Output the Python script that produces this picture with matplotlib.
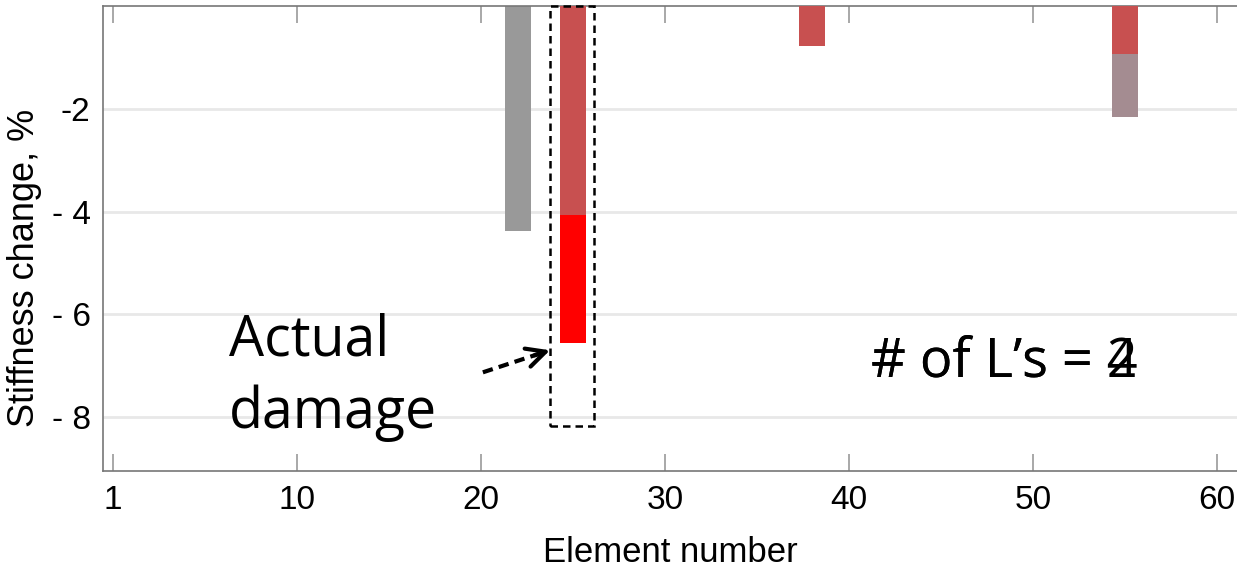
import matplotlib
matplotlib.use("Agg")
import matplotlib.pyplot as plt
from matplotlib.patches import Rectangle

# Identified stiffness change per element (%), layered bars
actual_elem = [25]
actual_change = [-6.56]

grey_elem = [22, 22]
grey_change = [-4.37, -2.87]

mauve_elem = [55]
mauve_change = [-2.17]

pred_elem = [25, 38, 55]
pred_change = [-4.06, -0.78, -0.93]

xtick_pos = [0, 10, 20, 30, 40, 50, 60]
xtick_labels = ["1", "10", "20", "30", "40", "50", "60"]
ytick_pos = [-2, -4, -6, -8]
ytick_labels = ["-2", "- 4", "- 6", "- 8"]

n_lines = ["2", "4"]  # overlaid frames of the count label

tick_font = ["Liberation Sans", "DejaVu Sans"]
text_font = ["Open Sans", "DejaVu Sans"]

fig = plt.figure(figsize=(12.37, 5.70), dpi=100)
ax = fig.add_axes([0.0833, 0.1737, 0.9167, 0.8158])

bw = 1.4
ax.bar(actual_elem, actual_change, width=bw, color="#ff0000", zorder=2)
ax.bar(grey_elem, grey_change, width=bw, color="#999999", zorder=2)
ax.bar(mauve_elem, mauve_change, width=bw, color="#a48c91", zorder=2)
ax.bar(pred_elem, pred_change, width=bw, color="#c85050", zorder=3)

ax.set_xlim(-0.55, 61.1)
ax.set_ylim(-9.05, 0)
ax.set_xticks(xtick_pos)
ax.set_xticklabels(xtick_labels, fontsize=24, family=tick_font)
ax.set_yticks(ytick_pos)
ax.set_yticklabels(ytick_labels, fontsize=24, family=tick_font)
ax.tick_params(axis="x", direction="in", length=12, width=1.2, color="#999999",
               top=True, pad=10)
ax.tick_params(axis="y", length=0, pad=9)
ax.grid(axis="y", color="#e8e8e8", linewidth=2, zorder=0)
ax.set_axisbelow(True)

for side in ["left", "bottom", "top"]:
    ax.spines[side].set_color("#777777")
    ax.spines[side].set_linewidth(1.2)
ax.spines["right"].set_visible(False)

ax.set_xlabel("Element number", fontsize=25, family=tick_font)
ax.xaxis.set_label_coords(0.5, -0.14)
ax.set_ylabel("Stiffness change, %", fontsize=26, family=tick_font, va="center")
ax.yaxis.set_label_coords(-0.069, 0.437)

# dashed box around the true damaged element
ax.add_patch(Rectangle((23.77, -8.17), 2.38, 8.17, fill=False, ls=(0, (3, 2)),
                       lw=1.8, ec="black", zorder=4, clip_on=False))

# dashed arrow shaft + solid open head pointing at the box
ax.plot([20.1, 23.4], [-7.13, -6.74], color="black", lw=3,
        ls=(0, (2.5, 1.5)), zorder=4)
ax.annotate("", xy=(23.75, -6.7), xytext=(22.9, -6.8),
            arrowprops=dict(arrowstyle="->", lw=3, color="black",
                            mutation_scale=34, shrinkA=0, shrinkB=0), zorder=4)

ax.text(6.31, -6.80, "Actual", fontsize=40, family=text_font,
        va="baseline", ha="left")
ax.text(6.31, -8.21, "damage", fontsize=40, family=text_font,
        va="baseline", ha="left")

for n in n_lines:
    ax.text(41.22, -7.22, "# of L\u2019s = " + n, fontsize=39, family=text_font,
            va="baseline", ha="left")

fig.savefig("out.png", dpi=100)
